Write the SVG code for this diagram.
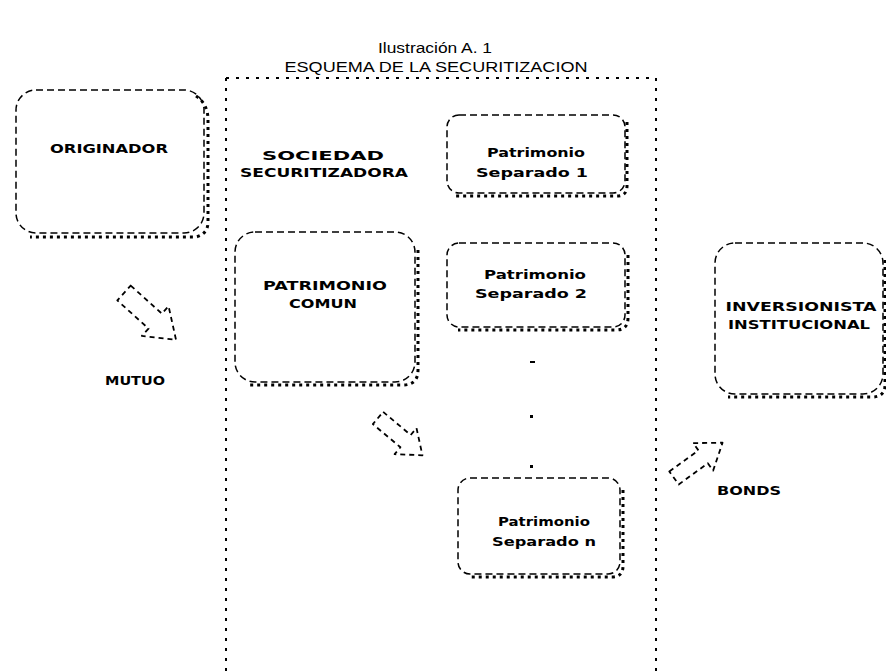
<svg xmlns="http://www.w3.org/2000/svg" width="886" height="672" viewBox="0 0 886 672">
<style>
text{font-family:"DejaVu Sans","Liberation Sans",Arial,sans-serif;font-size:12px;fill:#000;text-anchor:middle}
.t{font-weight:bold}
.h{font-family:"Liberation Sans",Arial,sans-serif;font-size:14px}
.box{fill:#fff;stroke:#000;stroke-width:1.5;stroke-dasharray:7 4}
.sh{fill:none;stroke:#000;stroke-width:3;stroke-dasharray:3 4}
.frame{fill:none;stroke:#000;stroke-width:2;stroke-dasharray:3 7}
.arr{fill:none;stroke:#000;stroke-width:1.8;stroke-dasharray:5 4;stroke-linejoin:round}
</style>
<rect width="886" height="672" fill="#fff"/>
<g id="title">
<text class="h" x="435" y="53" textLength="114" lengthAdjust="spacingAndGlyphs">Ilustración A. 1</text>
<text class="h" x="436" y="72" textLength="303" lengthAdjust="spacingAndGlyphs">ESQUEMA DE LA SECURITIZACION</text>
</g>
<g id="sociedad">
<path class="frame" d="M226 78 H656 V672 M226 78 V672"/>
<text class="t" x="323" y="160" textLength="122" lengthAdjust="spacingAndGlyphs">SOCIEDAD</text>
<text class="t" x="324" y="177" textLength="168" lengthAdjust="spacingAndGlyphs">SECURITIZADORA</text>
</g>
<g id="originador">
<rect class="box" x="16" y="90" width="188" height="143" rx="20"/>
<path class="sh" d="M196 96 Q208 104 208 120 V222 Q208 234 196 237 H30"/>
<text class="t" x="109" y="153" textLength="118" lengthAdjust="spacingAndGlyphs">ORIGINADOR</text>
</g>
<g id="sep1">
<rect class="box" x="447" y="115" width="178" height="78" rx="12"/>
<path class="sh" d="M627 122 V186 Q627 196 617 196 H455"/>
<text class="t" x="536" y="157" textLength="98" lengthAdjust="spacingAndGlyphs">Patrimonio</text>
<text class="t" x="532" y="177" textLength="112" lengthAdjust="spacingAndGlyphs">Separado 1</text>
</g>
<g id="comun">
<rect class="box" x="235" y="232" width="180" height="150" rx="20"/>
<path class="sh" d="M418 250 V370 Q418 385 403 385 H248"/>
<text class="t" x="325" y="290" textLength="124" lengthAdjust="spacingAndGlyphs">PATRIMONIO</text>
<text class="t" x="323" y="308" textLength="68" lengthAdjust="spacingAndGlyphs">COMUN</text>
</g>
<g id="sep2">
<rect class="box" x="447" y="243" width="178" height="84" rx="12"/>
<path class="sh" d="M628 255 V318 Q628 330 616 330 H458"/>
<text class="t" x="535" y="279" textLength="102" lengthAdjust="spacingAndGlyphs">Patrimonio</text>
<text class="t" x="531" y="298" textLength="112" lengthAdjust="spacingAndGlyphs">Separado 2</text>
</g>
<g id="dots">
<rect x="530" y="361" width="5" height="2"/>
<rect x="530" y="415" width="3" height="3"/>
<rect x="530" y="465" width="3" height="3"/>
</g>
<g id="sepn">
<rect class="box" x="458" y="478" width="162" height="96" rx="12"/>
<path class="sh" d="M623 490 V566 Q623 577 612 577 H470"/>
<text class="t" x="544" y="526" textLength="92" lengthAdjust="spacingAndGlyphs">Patrimonio</text>
<text class="t" x="544" y="546" textLength="104" lengthAdjust="spacingAndGlyphs">Separado n</text>
</g>
<g id="inversionista">
<rect class="box" x="715" y="243" width="168" height="151" rx="20"/>
<path class="sh" d="M885 260 V385 Q885 397 872 397 H728"/>
<text class="t" x="801" y="311" textLength="151" lengthAdjust="spacingAndGlyphs">INVERSIONISTA</text>
<text class="t" x="799" y="329" textLength="142" lengthAdjust="spacingAndGlyphs">INSTITUCIONAL</text>
</g>
<g id="connectors">
<polygon class="arr" transform="translate(124,293) rotate(42)" points="0,-10 42,-10 42,-20 70,0 42,20 42,10 0,10"/>
<polygon class="arr" transform="translate(378,418) rotate(40)" points="0,-8 36,-8 36,-17 58,0 36,17 36,8 0,8"/>
<polygon class="arr" transform="translate(674,478) rotate(-36)" points="0,-8 36,-8 36,-17 60,0 36,17 36,8 0,8"/>
</g>
<g id="labels">
<text class="t" x="135" y="385" textLength="60" lengthAdjust="spacingAndGlyphs">MUTUO</text>
<text class="t" x="749" y="495" textLength="64" lengthAdjust="spacingAndGlyphs">BONDS</text>
</g>
</svg>
